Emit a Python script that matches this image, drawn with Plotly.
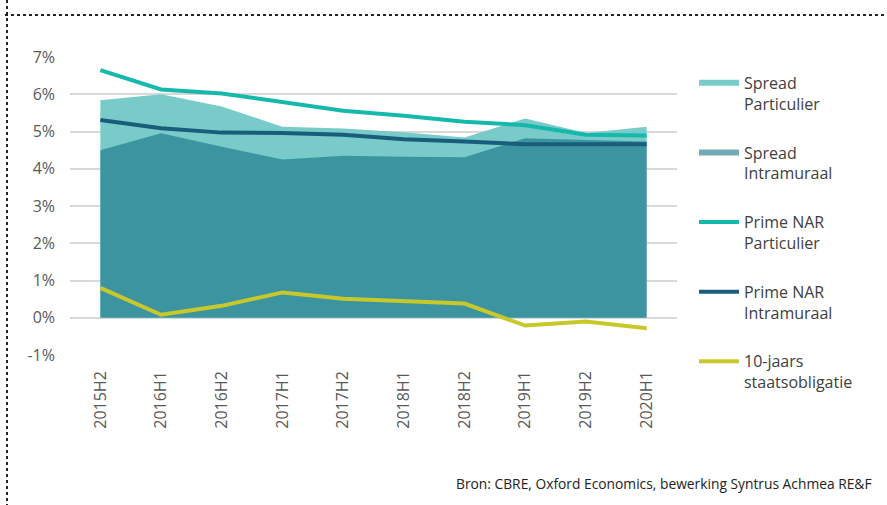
import plotly.graph_objects as go

categories = ["2015H2", "2016H1", "2016H2", "2017H1", "2017H2",
              "2018H1", "2018H2", "2019H1", "2019H2", "2020H1"]
spread_particulier = [5.84, 6.00, 5.67, 5.13, 5.08, 4.98, 4.84, 5.35, 4.96, 5.13]
spread_intramuraal = [4.50, 4.95, 4.59, 4.25, 4.35, 4.32, 4.31, 4.82, 4.77, 4.73]
prime_nar_particulier = [6.65, 6.13, 6.02, 5.79, 5.56, 5.42, 5.26, 5.17, 4.91, 4.89]
prime_nar_intramuraal = [5.31, 5.09, 4.97, 4.96, 4.91, 4.79, 4.73, 4.66, 4.66, 4.66]
staatsobligatie = [0.80, 0.08, 0.32, 0.68, 0.51, 0.44, 0.38, -0.21, -0.10, -0.28]
y_ticks = [-1, 0, 1, 2, 3, 4, 5, 6, 7]
y_tick_labels = ["-1%", "0%", "1%", "2%", "3%", "4%", "5%", "6%", "7%"]

FONT = "Open Sans"

fig = go.Figure()
fig.add_trace(go.Scatter(
    x=categories, y=spread_particulier, name="Spread<br>Particulier",
    mode="none", fill="tozeroy", fillcolor="rgb(120,203,200)", legendgroup="a"))
fig.add_trace(go.Scatter(
    x=categories, y=spread_intramuraal, name="Spread<br>Intramuraal",
    mode="none", fill="tozeroy", fillcolor="rgba(20,112,135,0.6)", legendgroup="b"))
fig.add_trace(go.Scatter(
    x=categories, y=prime_nar_particulier, name="Prime NAR<br>Particulier",
    mode="lines", line=dict(color="#17B8AC", width=4), legendgroup="c"))
fig.add_trace(go.Scatter(
    x=categories, y=prime_nar_intramuraal, name="Prime NAR<br>Intramuraal",
    mode="lines", line=dict(color="#195C7C", width=4), legendgroup="d"))
fig.add_trace(go.Scatter(
    x=categories, y=staatsobligatie, name="10-jaars<br>staatsobligatie",
    mode="lines", line=dict(color="#C9C82B", width=4), legendgroup="e"))

fig.update_layout(
    width=887, height=505,
    margin=dict(l=70, r=210, t=57, b=150),
    paper_bgcolor="white", plot_bgcolor="white",
    font=dict(family=FONT, color="#595959"),
    showlegend=True,
    legend=dict(
        x=1.028, xanchor="left", y=0.97, yanchor="top",
        font=dict(family=FONT, size=16, color="#404040"),
        itemwidth=40, tracegroupgap=25, valign="top", maxheight=480,
        traceorder="grouped", bgcolor="rgba(0,0,0,0)"),
    xaxis=dict(
        type="category", range=[-0.5, 9.5], showgrid=False, showline=False,
        zeroline=False, tickangle=-90, ticks="", ticklabelstandoff=12,
        tickfont=dict(family=FONT, size=16, color="#595959")),
    yaxis=dict(
        range=[-1, 7], tickvals=y_ticks, ticktext=y_tick_labels,
        showgrid=True, gridcolor="#D9D9D9", gridwidth=2, zeroline=False,
        showline=False, ticks="", ticklabelstandoff=14,
        tickfont=dict(family=FONT, size=16, color="#595959")),
    shapes=[
        dict(type="line", xref="paper", yref="paper",
             x0=(5 - 70) / 607, x1=(887 - 70) / 607,
             y0=(355 - 15) / 298, y1=(355 - 15) / 298,
             line=dict(color="#222", width=2, dash="dot")),
        dict(type="line", xref="paper", yref="paper",
             x0=(7 - 70) / 607, x1=(7 - 70) / 607,
             y0=(355 - 0) / 298, y1=(355 - 505) / 298,
             line=dict(color="#222", width=2, dash="dot")),
    ],
    annotations=[
        dict(text="Bron: CBRE, Oxford Economics, bewerking Syntrus Achmea RE&F",
             xref="paper", yref="paper", x=(874 - 70) / 607, y=(355 - 483) / 298,
             xanchor="right", yanchor="middle", showarrow=False,
             font=dict(family=FONT, size=13.8, color="#222"))
    ],
)

fig.write_html("out.html", config={"displayModeBar": False},
               post_script="document.body.style.margin='0';document.body.style.overflow='hidden';")
